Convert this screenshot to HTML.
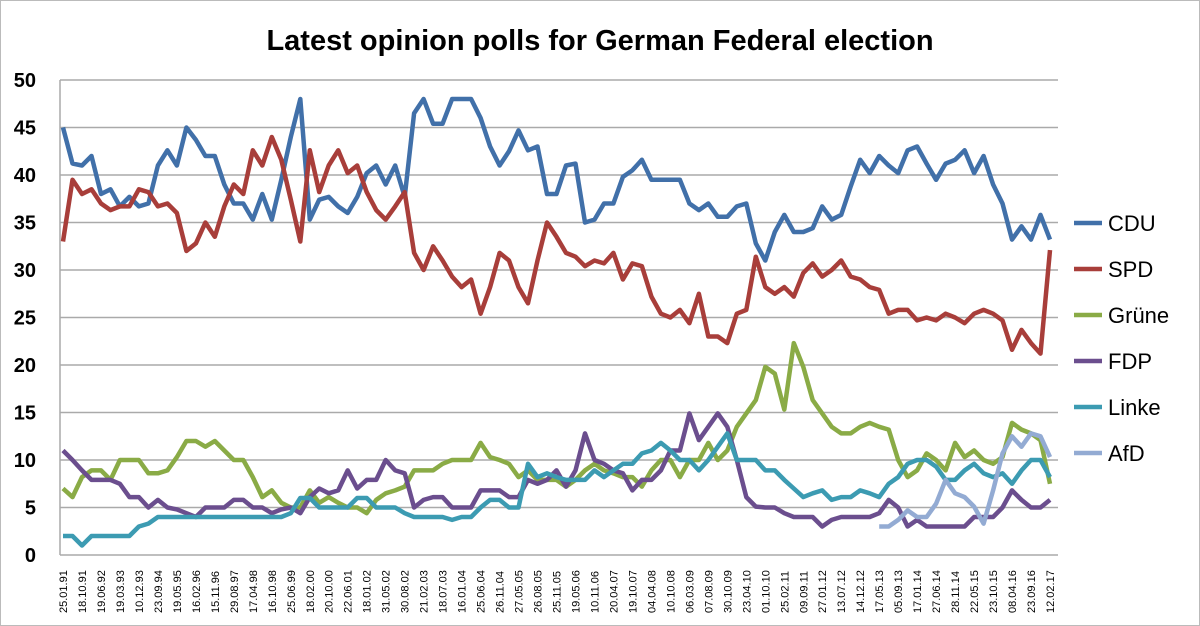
<!DOCTYPE html>
<html><head><meta charset="utf-8"><style>
body{margin:0;background:#fff;font-family:"Liberation Sans",sans-serif}
svg{display:block}
</style></head><body>
<svg id="c" width="1200" height="626">
<rect x="0.5" y="0.5" width="1199" height="625" fill="#fff" stroke="#bbb"/>
<text x="600" y="50" text-anchor="middle" font-size="29" font-weight="bold" fill="#000">Latest opinion polls for German Federal election</text>
<g id="grid"></g><g id="lines"></g><g id="xl"></g><g id="legend"></g>
</svg>
<script>
const labels=["25.01.91","18.10.91","19.06.92","19.03.93","10.12.93","23.09.94","19.05.95","16.02.96","15.11.96","29.08.97","17.04.98","16.10.98","25.06.99","18.02.00","20.10.00","22.06.01","18.01.02","31.05.02","30.08.02","21.02.03","18.07.03","16.01.04","25.06.04","26.11.04","27.05.05","26.08.05","25.11.05","19.05.06","10.11.06","20.04.07","19.10.07","04.04.08","10.10.08","06.03.09","07.08.09","30.10.09","23.04.10","01.10.10","25.02.11","09.09.11","27.01.12","13.07.12","14.12.12","17.05.13","05.09.13","17.01.14","27.06.14","28.11.14","22.05.15","23.10.15","08.04.16","23.09.16","12.02.17"];
const yTicks=[0,5,10,15,20,25,30,35,40,45,50];
const cdu=[45,41.2,41,42,38,38.5,36.7,37.7,36.7,37,41,42.6,41,45,43.7,42,42,39,37,37,35.3,38,35.3,39.5,44,48,35.3,37.4,37.7,36.7,36,37.7,40.2,41,39,41,37.7,46.5,48,45.4,45.4,48,48,48,46,43,41,42.5,44.7,42.6,43,38,38,41,41.2,35,35.3,37,37,39.8,40.5,41.6,39.5,39.5,39.5,39.5,37,36.3,37,35.6,35.6,36.7,37,32.8,31,34,35.8,34,34,34.4,36.7,35.3,35.8,38.8,41.6,40.2,42,41,40.2,42.6,43,41.2,39.5,41.2,41.6,42.6,40.2,42,39,37,33.2,34.6,33.2,35.8,33.2];
const spd=[33,39.5,38,38.5,37,36.3,36.7,36.7,38.5,38.2,36.7,37,36,32,32.8,35,33.5,36.7,39,38,42.6,41,44,41.6,37.4,33,42.6,38.2,41,42.6,40.2,41,38.2,36.3,35.3,36.7,38.2,31.8,30,32.5,31,29.3,28.2,29,25.4,28.2,31.8,31,28.2,26.5,31,35,33.5,31.8,31.4,30.4,31,30.7,31.8,29,30.7,30.4,27.2,25.4,25,25.8,24.4,27.5,23,23,22.3,25.4,25.8,31.4,28.2,27.5,28.2,27.2,29.7,30.7,29.3,30,31,29.3,29,28.2,27.9,25.4,25.8,25.8,24.7,25,24.7,25.4,25,24.4,25.4,25.8,25.4,24.7,21.6,23.7,22.3,21.2,32.1];
const gruene=[7,6.1,8.2,8.9,8.9,7.9,10,10,10,8.6,8.6,8.9,10.3,12,12,11.4,12,11,10,10,8.2,6.1,6.8,5.5,5,5,6.8,5.5,6.1,5.5,5,5,4.4,5.8,6.5,6.8,7.2,8.9,8.9,8.9,9.6,10,10,10,11.8,10.3,10,9.6,8.2,8.9,7.9,7.9,7.9,7.2,7.9,8.9,9.6,8.9,8.6,8.2,8.2,7.2,8.9,10,10,8.2,10,10,11.8,10,11,13.5,14.9,16.3,19.8,19.1,15.3,22.3,19.8,16.3,14.9,13.5,12.8,12.8,13.5,13.9,13.5,13.2,10,8.2,8.9,10.7,10,8.9,11.8,10.3,11,10,9.6,10.3,13.9,13.2,12.8,12.1,7.5];
const fdp=[11,10,8.9,7.9,7.9,7.9,7.5,6.1,6.1,5,5.8,5,4.8,4.4,4,5,5,5,5.8,5.8,5,5,4.4,4.8,5,4.4,6.1,7,6.5,6.8,8.9,7,7.9,7.9,10,8.9,8.6,5,5.8,6.1,6.1,5,5,5,6.8,6.8,6.8,6.1,6.1,7.9,7.5,7.9,8.9,7.2,8.9,12.8,10,9.6,8.9,8.6,6.8,7.9,7.9,8.9,11,11,14.9,12.1,13.5,14.9,13.5,10,6.1,5.1,5,5,4.4,4,4,4,3,3.7,4,4,4,4,4.4,5.8,5,3,3.7,3,3,3,3,3,4,4,4,5,6.8,5.8,5,5,5.8];
const linke=[2,2,1,2,2,2,2,2,3,3.3,4,4,4,4,4,4,4,4,4,4,4,4,4,4,4.4,6,6,5,5,5,5,6,6,5,5,5,4.4,4,4,4,4,3.7,4,4,5,5.8,5.8,5,5,9.6,8.2,8.6,8.2,7.9,7.9,7.9,8.9,8.2,8.9,9.6,9.6,10.7,11,11.8,11,10,10,8.9,10,11.4,12.8,10,10,10,8.9,8.9,7.9,7,6.1,6.5,6.8,5.8,6.1,6.1,6.8,6.5,6.1,7.5,8.2,9.6,10,10,9.3,7.9,7.9,8.9,9.6,8.6,8.2,8.6,7.5,8.9,10,10,8.2];
const afd=[null,null,null,null,null,null,null,null,null,null,null,null,null,null,null,null,null,null,null,null,null,null,null,null,null,null,null,null,null,null,null,null,null,null,null,null,null,null,null,null,null,null,null,null,null,null,null,null,null,null,null,null,null,null,null,null,null,null,null,null,null,null,null,null,null,null,null,null,null,null,null,null,null,null,null,null,null,null,null,null,null,null,null,null,null,null,3,3,3.7,4.7,4,4,5.4,7.9,6.5,6.1,5.1,3.3,6.8,10.7,12.5,11.4,12.8,12.5,10.3];
const series=[["CDU",cdu,"#4170a9"],["SPD",spd,"#a83e3a"],["Grüne",gruene,"#8aab46"],["FDP",fdp,"#6b4e8e"],["Linke",linke,"#3c9bb2"],["AfD",afd,"#93abd3"]];
const X0=63,X1=1050,Y0=555,Y50=80,L=60,R=1058;
const xs=i=>X0+(X1-X0)*i/(cdu.length-1);
const xl=k=>X0+(X1-X0)*k/(labels.length-1);
const ys=v=>Y0-(Y0-Y50)*v/50;
const NS="http://www.w3.org/2000/svg";
function mk(t,a,p){const e=document.createElementNS(NS,t);for(const k in a)e.setAttribute(k,a[k]);p.appendChild(e);return e;}
const g=document.getElementById('grid');
yTicks.forEach(v=>{
 const l=mk('line',{x1:L,x2:R,y1:ys(v),y2:ys(v),stroke:"#aaa","stroke-width":1.5},g);
 
 
 const t=mk('text',{x:36,y:ys(v)+7,"text-anchor":"end","font-size":20,"font-weight":"bold"},g);
 t.textContent=v;
 
 
});
const ax=mk('line',{x1:L,x2:L,y1:Y50,y2:Y0,stroke:"#aaa","stroke-width":1.5},g);


const xg=document.getElementById('xl');
labels.forEach((s,k)=>{
 const x=xl(k)+4;
 const t=mk('text',{x:0,y:0,transform:`translate(${x},613) rotate(-90)`,"font-size":11},xg);
 t.textContent=s;
 
 
});
const lg=document.getElementById('lines'),leg=document.getElementById('legend');
const legY=[231,277,323,369,415,461];
series.forEach(([n,d,c],si)=>{
 let segs=[],cur="";
 d.forEach((v,i)=>{if(v==null){cur="";return;}cur+=(cur?"L":"M")+xs(i).toFixed(1)+","+ys(v).toFixed(1);segs.push(cur);});
 let path="",start=true;
 d.forEach((v,i)=>{if(v==null){start=true;return;}path+=(start?"M":"L")+xs(i).toFixed(1)+","+ys(v).toFixed(1);start=false;});
 const p=mk('path',{d:path,fill:"none",stroke:c,"stroke-width":4.5,"stroke-linejoin":"round"},lg);
 
 
 const ll=mk('line',{x1:1074,x2:1102,y1:legY[si]-8,y2:legY[si]-8,stroke:c,"stroke-width":4.5},leg);
 
 
 const t=mk('text',{x:1108,y:legY[si],"font-size":22},leg);
 t.textContent=n;
 
 
});
</script>
</body></html>
